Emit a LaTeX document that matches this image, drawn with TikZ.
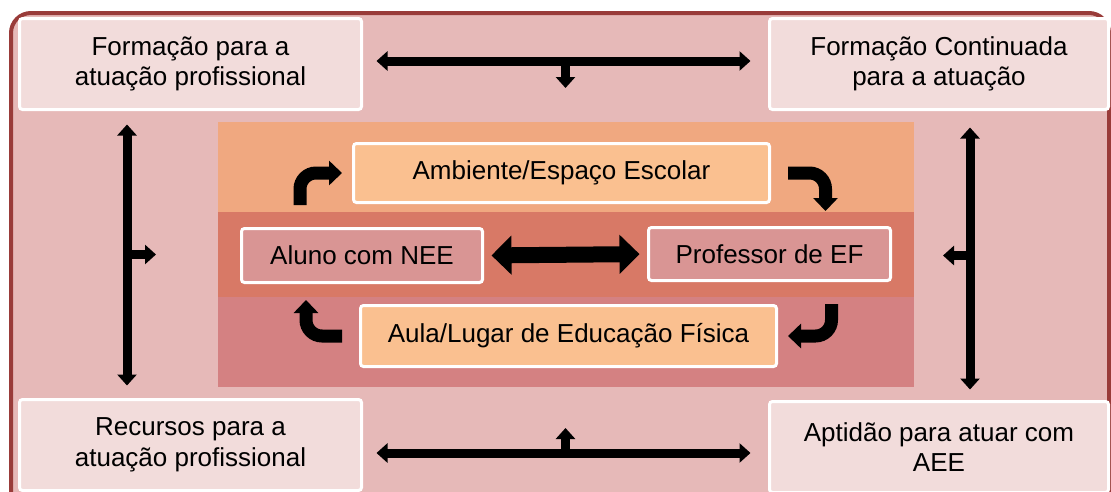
\documentclass[tikz,border=0pt]{standalone}
\usepackage{fontspec}
\setmainfont{Liberation Sans}
\usetikzlibrary{arrows.meta}
\definecolor{fundo}{HTML}{E6B9B8}
\definecolor{borda}{HTML}{993B39}
\definecolor{rosaclaro}{HTML}{F2DCDB}
\definecolor{faixaum}{HTML}{F0A880}
\definecolor{faixadois}{HTML}{D87966}
\definecolor{faixatres}{HTML}{D48182}
\definecolor{pessego}{HTML}{FAC090}
\definecolor{rosa}{HTML}{D99594}
\tikzset{
  caixa/.style={draw=white, line width=3pt, rounded corners=3pt, align=center, inner sep=0pt, font=\fontsize{26}{30.5}\selectfont},
  canto/.style={caixa, fill=rosaclaro, minimum height=91pt},
  setaborda/.style={line width=9pt, {Triangle[length=11pt,width=19pt]}-{Triangle[length=11pt,width=19pt]}},
  setaponta/.style={line width=9pt, -{Triangle[length=11pt,width=19pt]}},
  setadupla/.style={line width=16pt, {Triangle[length=20pt,width=38pt]}-{Triangle[length=20pt,width=38pt]}},
  setacurva/.style={line width=13pt, rounded corners=16pt, -{Triangle[length=13pt,width=24pt]}}
}
\begin{document}
\begin{tikzpicture}[x=1pt,y=-1pt]
\clip (0,0) rectangle (1111,491);
\draw[borda, line width=4pt, fill=fundo, rounded corners=20pt] (11,13) rectangle (1109,530);
% faixas do meio
\fill[faixaum] (218,122) rectangle (914,212);
\fill[faixadois] (218,212) rectangle (914,297);
\fill[faixatres] (218,297) rectangle (914,387);
% caixas dos cantos
\node[canto, minimum width=342pt] (tl) at (190.5,64) {Formação para a\\atuação profissional};
\node[canto, minimum width=339pt] (tr) at (939,64) {Formação Continuada\\para a atuação};
\node[canto, minimum width=342pt] (bl) at (190.5,445) {Recursos para a\\atuação profissional};
\node[canto, minimum width=339pt] (br) at (939,447) {Aptidão para atuar com\\AEE};
% caixas do meio
\node[caixa, fill=pessego, minimum width=416pt, minimum height=59pt] (ambiente) at (561.5,173) {Ambiente/Espaço Escolar};
\node[caixa, fill=rosa, minimum width=241pt, minimum height=54pt] (aluno) at (362,255.5) {Aluno com NEE};
\node[caixa, fill=rosa, minimum width=242pt, minimum height=53pt] (prof) at (769.5,254) {Professor de EF};
\node[caixa, fill=pessego, minimum width=416pt, minimum height=61pt] (aula) at (568.5,336) {Aula/Lugar de Educação Física};
% setas da borda
\draw[setaborda, shorten <=13.5pt, shorten >=17.5pt] ([yshift=3pt]tl.east) -- coordinate[midway] (meiocima) ([yshift=3pt]tr.west);
\draw[setaponta] (meiocima) -- ++(0,27);
\draw[setaborda, shorten <=13.5pt, shorten >=17.5pt] ([yshift=-8pt]bl.east) -- coordinate[midway] (meiobaixo) ([yshift=-6pt]br.west);
\draw[setaponta] (meiobaixo) -- ++(0,-25);
\draw[setaborda, shorten <=13.5pt, shorten >=12.5pt] ([xshift=-63.5pt]tl.south) -- coordinate[midway] (meioesq) ([xshift=-63.5pt]bl.north);
\draw[setaponta] (meioesq) -- ++(29,0);
\draw[setaborda, shorten <=16.5pt, shorten >=10.5pt] ([xshift=31pt]tr.south) -- coordinate[midway] (meiodir) ([xshift=31pt]br.north);
\draw[setaponta] (meiodir) -- ++(-27,0);
% setas do meio
\draw[setadupla, shorten <=7.5pt, shorten >=7.5pt] (aluno.east) -- (prof.west);
\draw[setacurva] ([xshift=-62pt,yshift=22pt]aluno.north) |- ([xshift=-10pt]ambiente.west);
\draw[setacurva] ([xshift=17pt]ambiente.east) -| ([xshift=56pt,yshift=15pt]prof.north);
\draw[setacurva] ([xshift=62pt,yshift=-22pt]prof.south) |- ([xshift=10pt]aula.east);
\draw[setacurva] ([xshift=-17pt]aula.west) -| ([xshift=-56pt,yshift=-16pt]aluno.south);
\end{tikzpicture}
\end{document}
